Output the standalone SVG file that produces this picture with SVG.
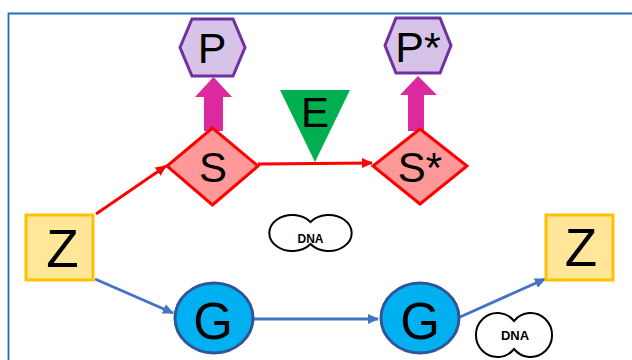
<svg xmlns="http://www.w3.org/2000/svg" width="632" height="360" viewBox="0 0 632 360">
<style>
text{font-family:"Liberation Sans",Arial,sans-serif;fill:#000;text-anchor:middle}
.hex{fill:#d8c3e8;stroke:#7030a0;stroke-width:3}
.pk{fill:#dc2a9e}
.dia{fill:#ff9999;stroke:#ff0000;stroke-width:3}
.zb{fill:#ffe699;stroke:#ffc000;stroke-width:3}
.g{fill:#00b0f0;stroke:#2f5597;stroke-width:3}
.dna{fill:#fff;stroke:#000;stroke-width:2}
.red{stroke:#ff0000;stroke-width:2.8;fill:none;marker-end:url(#ar)}
.blu{stroke:#4472c4;stroke-width:2.8;fill:none;marker-end:url(#ab)}
</style>
<defs>
<marker id="ar" viewBox="0 0 10 10" refX="9" refY="5" markerWidth="4" markerHeight="4" orient="auto"><path d="M0,0.5 L10,5 L0,9.5 z" fill="#ff0000"/></marker>
<marker id="ab" viewBox="0 0 10 10" refX="9" refY="5" markerWidth="4" markerHeight="4" orient="auto"><path d="M0,0.5 L10,5 L0,9.5 z" fill="#4472c4"/></marker>
</defs>
<rect width="632" height="360" fill="#fff"/>
<path d="M8.5,360 V13.5 H632" fill="none" stroke="#1f6fc0" stroke-width="1.8"/>
<g id="connectors">
<line class="red" x1="96" y1="214" x2="166" y2="166"/>
<line class="red" x1="258" y1="164" x2="372" y2="163"/>
<line class="blu" x1="95" y1="279" x2="173" y2="313"/>
<line class="blu" x1="254" y1="319" x2="378" y2="319"/>
<line class="blu" x1="460" y1="317" x2="545" y2="279"/>
<path id="arrowP" class="pk" d="M204,131 V97 H195 L213.5,77 L232,97 H223 V131 Z"/>
<path id="arrowPs" class="pk" d="M408,131 V95 H400 L418,76 L437,95 H424 V131 Z"/>
</g>
<g id="P"><polygon class="hex" points="180,47.5 192,19 233,19 245,47.5 233,76 192,76"/><text x="212" y="63" font-size="43">P</text></g>
<g id="Pstar"><polygon class="hex" points="385,45.5 396,18 440,18 451,45.5 440,73 396,73"/><text x="418" y="62" font-size="43">P*</text></g>
<g id="E"><polygon points="280,90 350,90 315,162" fill="#00b050"/><text x="315" y="127" font-size="42">E</text></g>
<g id="S"><polygon class="dia" points="212.5,128 258,166 212.5,205 167,166"/><text x="213" y="182" font-size="42">S</text></g>
<g id="Sstar"><polygon class="dia" points="420,129 467,166 420,204 373,166"/><text x="420" y="182" font-size="42">S*</text></g>
<g id="Z1"><rect class="zb" x="26" y="215" width="67" height="65"/><text x="62.5" y="267" font-size="53">Z</text></g>
<g id="Z2"><rect class="zb" x="546" y="215" width="67" height="65"/><text x="581" y="266" font-size="53">Z</text></g>
<g id="G1"><ellipse class="g" cx="214" cy="318" rx="39" ry="35"/><text x="213" y="339" font-size="51">G</text></g>
<g id="G2"><ellipse class="g" cx="420" cy="318" rx="39" ry="35"/><text x="420" y="339" font-size="51">G</text></g>
<g id="DNA1"><path class="dna" d="M310.5,222 A23,18 0 1 0 310.5,244 A23,18 0 1 0 310.5,222 Z"/><text x="310.5" y="243" font-size="12" font-weight="bold">DNA</text></g>
<g id="DNA2"><path class="dna" d="M514,321 A21.5,22 0 1 0 514,349 A21.5,22 0 1 0 514,321 Z"/><text x="515" y="340" font-size="13" font-weight="bold">DNA</text></g>
</svg>
